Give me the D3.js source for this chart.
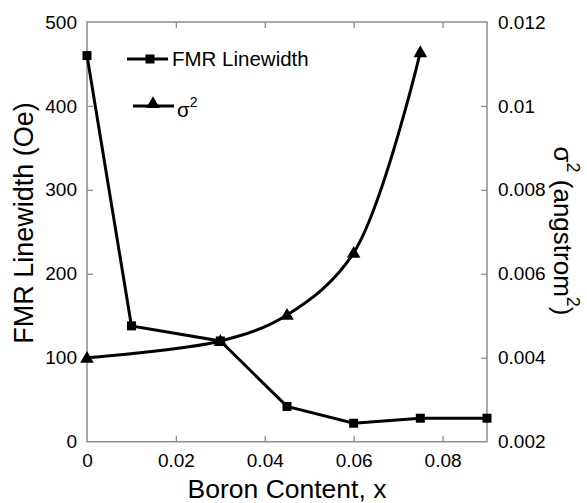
<!DOCTYPE html>
<html><head><meta charset="utf-8">
<script src="https://cdn.jsdelivr.net/npm/d3@7"></script>
<style>body{margin:0;background:#fff;} svg{display:block;font-family:"Liberation Sans",Arial,sans-serif;}</style>
</head><body>
<svg id="chart" width="587" height="503"></svg>
<script>
const boronX = [0, 0.01, 0.03, 0.045, 0.06, 0.075, 0.09];
const fmrLinewidth = [460, 138, 120, 42, 22, 28, 28];
const sigmaX = [0, 0.03, 0.045, 0.06, 0.075];
const sigma2 = [0.0040, 0.0044, 0.00502, 0.0065, 0.01128];
const xTicks = [0, 0.02, 0.04, 0.06, 0.08];
const xTickLabels = ["0", "0.02", "0.04", "0.06", "0.08"];
const yLeftTicks = [0, 100, 200, 300, 400, 500];
const yRightTicks = [0.002, 0.004, 0.006, 0.008, 0.01, 0.012];
const yRightTickLabels = ["0.002", "0.004", "0.006", "0.008", "0.01", "0.012"];

const svg = d3.select("#chart");
const L = 87, R = 487, T = 22, B = 441.7;
const x = d3.scaleLinear().domain([0, 0.09]).range([L, R]);
const yL = d3.scaleLinear().domain([0, 500]).range([B, T]);
const yR = d3.scaleLinear().domain([0.002, 0.012]).range([B, T]);
const axisColor = "#8c8c8c";

// frame
svg.append("rect").attr("x", L).attr("y", T).attr("width", R - L).attr("height", B - T)
  .attr("fill", "none").attr("stroke", axisColor).attr("stroke-width", 1.5);

function styleAxis(g) {
  g.select(".domain").remove();
  g.selectAll(".tick line").attr("stroke", axisColor).attr("stroke-width", 1.3);
  g.selectAll(".tick text").attr("fill", "#000").attr("font-size", 19)
    .attr("font-family", "'Liberation Sans',Arial,sans-serif");
}
// bottom
svg.append("g").attr("transform", `translate(0,${B})`)
  .call(d3.axisBottom(x).tickValues(xTicks).tickSize(-6).tickPadding(12)
    .tickFormat((d, i) => xTickLabels[i]))
  .call(styleAxis)
  .call(g => g.selectAll(".tick line").filter(d => d === 0).remove());
// top
svg.append("g").attr("transform", `translate(0,${T})`)
  .call(d3.axisTop(x).tickValues(xTicks.slice(1)).tickSize(-6).tickFormat(""))
  .call(styleAxis);
// left
svg.append("g").attr("transform", `translate(${L},0)`)
  .call(d3.axisLeft(yL).tickValues(yLeftTicks).tickSize(-6).tickPadding(10))
  .call(styleAxis)
  .call(g => g.selectAll(".tick line").filter(d => d === 0 || d === 500).remove());
// right
svg.append("g").attr("transform", `translate(${R},0)`)
  .call(d3.axisRight(yR).tickValues(yRightTicks).tickSize(-6).tickPadding(11)
    .tickFormat((d, i) => yRightTickLabels[i]))
  .call(styleAxis)
  .call(g => g.selectAll(".tick line").filter((d, i) => i === 0 || i === yRightTicks.length - 1).remove());

// data lines
const fmrData = boronX.map((b, i) => [b, fmrLinewidth[i]]);
const sigData = sigmaX.map((b, i) => [b, sigma2[i]]);
svg.append("path").datum(fmrData)
  .attr("d", d3.line().x(d => x(d[0])).y(d => yL(d[1])))
  .attr("fill", "none").attr("stroke", "#000").attr("stroke-width", 3);
svg.append("path").datum(sigData)
  .attr("d", d3.line().curve(d3.curveCatmullRom.alpha(0.5)).x(d => x(d[0])).y(d => yR(d[1])))
  .attr("fill", "none").attr("stroke", "#000").attr("stroke-width", 3);

const sq = 9;
svg.selectAll("rect.fmr").data(fmrData).enter().append("rect")
  .attr("x", d => x(d[0]) - sq / 2).attr("y", d => yL(d[1]) - sq / 2)
  .attr("width", sq).attr("height", sq).attr("fill", "#000");
const tri = d3.symbol().type(d3.symbolTriangle).size(80);
svg.selectAll("path.sig").data(sigData).enter().append("path")
  .attr("d", tri).attr("transform", d => `translate(${x(d[0])},${yR(d[1]) + 1})`).attr("fill", "#000");

// legend
const lg = svg.append("g");
lg.append("line").attr("x1", 127).attr("x2", 168).attr("y1", 59).attr("y2", 59).attr("stroke", "#000").attr("stroke-width", 3);
lg.append("rect").attr("x", 150 - sq / 2).attr("y", 59 - sq / 2).attr("width", sq).attr("height", sq).attr("fill", "#000");
lg.append("text").attr("x", 172).attr("y", 66).attr("font-size", 20.5).text("FMR Linewidth");
lg.append("line").attr("x1", 133).attr("x2", 174).attr("y1", 106).attr("y2", 106).attr("stroke", "#000").attr("stroke-width", 3);
lg.append("path").attr("d", tri).attr("transform", "translate(153,104)").attr("fill", "#000");
const st = lg.append("text").attr("x", 177).attr("y", 117).attr("font-size", 20.5);
st.append("tspan").text("σ");
st.append("tspan").attr("font-size", 14).attr("dy", -10).text("2");

// axis titles
svg.append("text").attr("x", 287).attr("y", 498).attr("text-anchor", "middle").attr("font-size", 26.5)
  .text("Boron Content, x");
svg.append("text").attr("transform", "translate(33,223) rotate(-90)").attr("text-anchor", "middle").attr("font-size", 27)
  .text("FMR Linewidth (Oe)");
const rt = svg.append("text").attr("transform", "translate(554,231) rotate(90)").attr("text-anchor", "middle").attr("font-size", 26);
rt.append("tspan").text("σ");
rt.append("tspan").attr("font-size", 18).attr("dy", -13).text("2");
rt.append("tspan").attr("dy", 13).text(" (angstrom");
rt.append("tspan").attr("font-size", 18).attr("dy", -13).text("2");
rt.append("tspan").attr("dy", 13).text(")");
</script>
</body></html>
